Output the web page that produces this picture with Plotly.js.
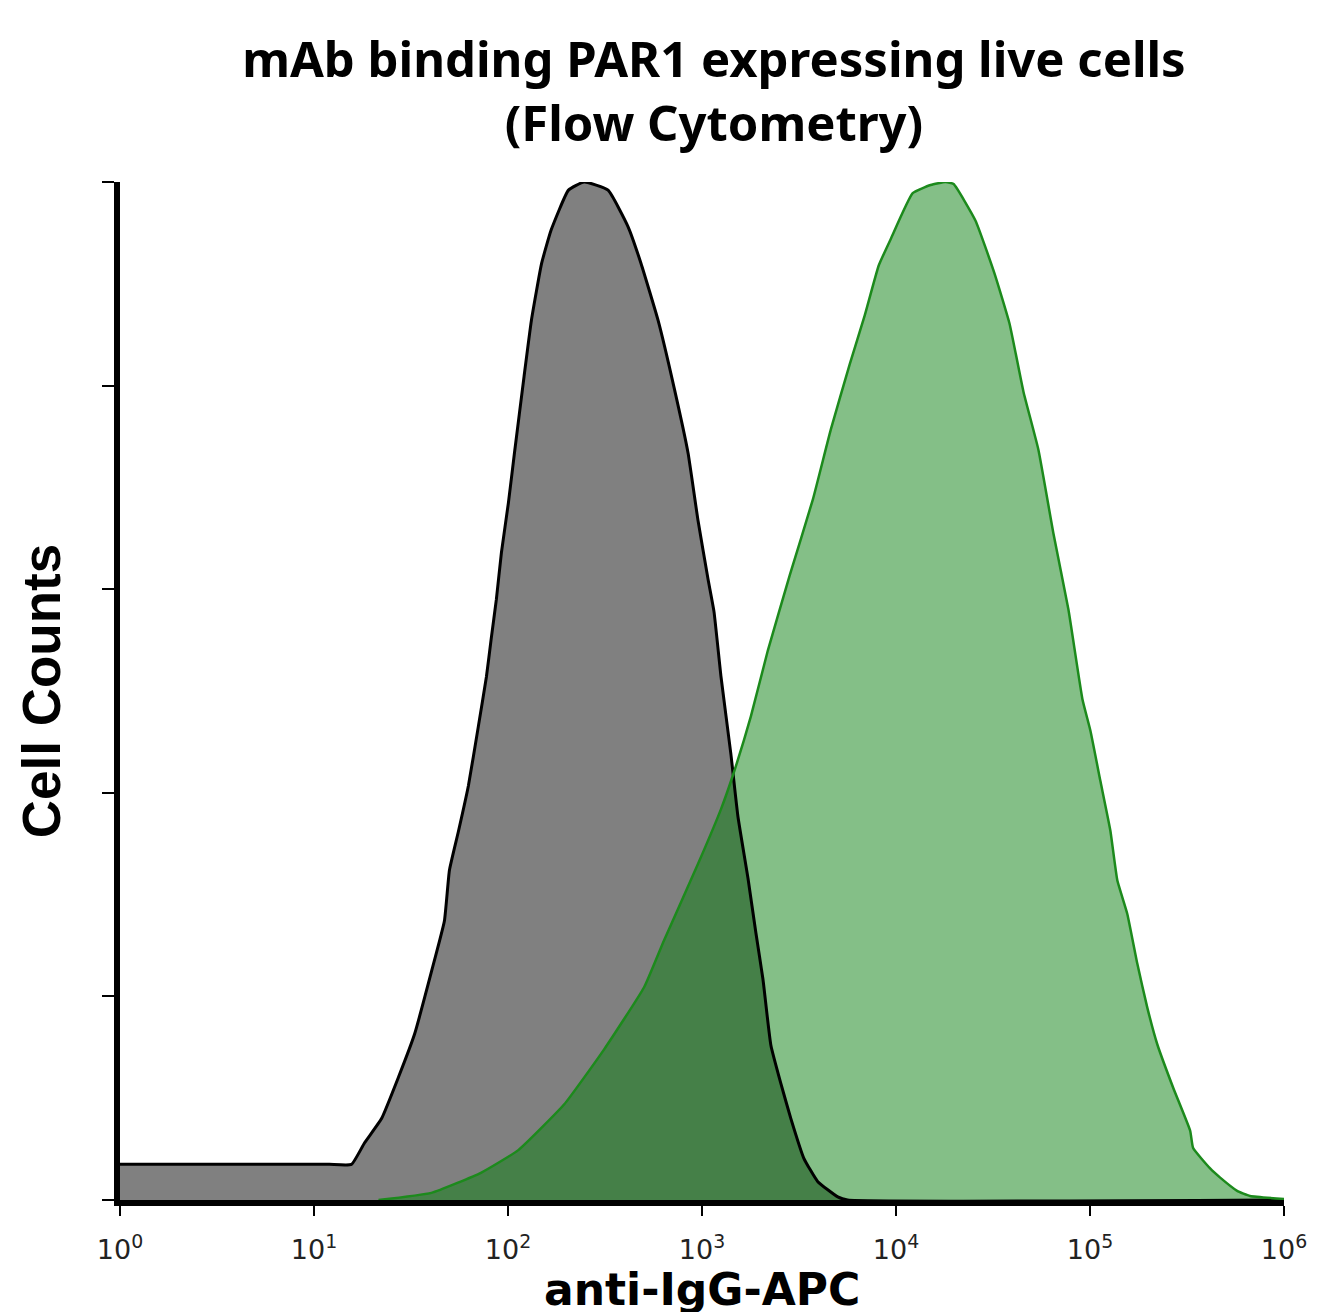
<!DOCTYPE html>
<html>
<head>
<meta charset="utf-8">
<script src="https://cdn.plot.ly/plotly-3.0.1.min.js"></script>
<style>
  html, body { margin: 0; padding: 0; background: #fff; }
  #chart { width: 1327px; height: 1312px; }
</style>
</head>
<body>
<div id="chart"></div>
<script>
// isotype control (gray) - fluorescence vs normalized counts
const isoX = [1, 2, 4, 8, 12, 15.6, 18.2, 22.3, 27.3, 33.0, 40.4, 47.0, 49.9, 55.5, 62.5, 70.3, 77.4,
  82.0, 87.1, 92.5, 100.5, 108, 121, 132, 149, 167, 205, 247, 328, 416, 485, 594, 718, 847, 953, 1074,
  1153, 1253, 1409, 1531, 1726, 1897, 2061, 2265, 2553, 2871, 3350, 3954, 5012, 5636, 1e6];
const isoY = [0.035, 0.035, 0.035, 0.035, 0.035, 0.035, 0.056, 0.080, 0.121, 0.163, 0.225, 0.274,
  0.324, 0.362, 0.407, 0.465, 0.514, 0.552, 0.590, 0.636, 0.685, 0.734, 0.809, 0.864, 0.920, 0.953,
  0.992, 1.000, 0.992, 0.956, 0.920, 0.864, 0.798, 0.734, 0.668, 0.610, 0.578, 0.514, 0.438, 0.377,
  0.316, 0.262, 0.217, 0.152, 0.114, 0.080, 0.041, 0.018, 0.003, 0, 0];

// mAb stained cells (green)
const mabX = [21.5, 40.3, 72.9, 113, 195, 313, 503, 637, 953, 1253, 1442, 1786, 2186, 2837, 3726,
  4615, 5776, 6900, 8147, 9397, 12190, 15080, 18020, 19810, 25700, 32210, 38460, 45390, 54200,
  64750, 77410, 91410, 100500, 113000, 127300, 138300, 155700, 175400, 197400, 222200, 268700,
  328400, 340100, 416100, 468800, 573300, 668300, 1e6];
const mabY = [0, 0.007, 0.027, 0.049, 0.094, 0.148, 0.209, 0.255, 0.330, 0.384, 0.417, 0.475, 0.540,
  0.614, 0.688, 0.757, 0.821, 0.869, 0.918, 0.944, 0.989, 0.997, 1.000, 0.998, 0.962, 0.910, 0.861,
  0.794, 0.737, 0.655, 0.580, 0.492, 0.461, 0.412, 0.363, 0.314, 0.281, 0.232, 0.189, 0.153, 0.110,
  0.068, 0.051, 0.031, 0.022, 0.009, 0.004, 0.001];

const tickVals = [1, 10, 100, 1000, 10000, 100000, 1000000];
const tickText = ['10<sup>0</sup>', '10<sup>1</sup>', '10<sup>2</sup>', '10<sup>3</sup>',
  '10<sup>4</sup>', '10<sup>5</sup>', '10<sup>6</sup>'];
const countTicks = [0, 0.2, 0.4, 0.6, 0.8, 1.0];

// fills first, outlines on top
const smooth = { shape: 'spline', smoothing: 0.4 };
const traces = [
  {
    x: isoX, y: isoY, type: 'scatter', mode: 'lines', fill: 'tozeroy',
    fillcolor: '#808080', line: Object.assign({ width: 0 }, smooth), hoverinfo: 'skip'
  },
  {
    x: mabX, y: mabY, type: 'scatter', mode: 'lines', fill: 'tozeroy',
    fillcolor: 'rgba(10,128,16,0.5)', line: Object.assign({ width: 0 }, smooth), hoverinfo: 'skip'
  },
  {
    x: isoX, y: isoY, type: 'scatter', mode: 'lines',
    line: Object.assign({ color: '#000000', width: 3 }, smooth)
  },
  {
    x: mabX, y: mabY, type: 'scatter', mode: 'lines',
    line: Object.assign({ color: '#1c8a1c', width: 2.5 }, smooth)
  }
];

const layout = {
  width: 1327,
  height: 1312,
  margin: { l: 120, r: 43, t: 182, b: 112 },
  paper_bgcolor: '#ffffff',
  plot_bgcolor: '#ffffff',
  showlegend: false,
  title: {
    text: '<b>mAb binding PAR1 expressing live cells<br>(Flow Cytometry)</b>',
    font: { family: 'Noto Sans', size: 49, color: '#000000' },
    xref: 'container', x: 0.538, xanchor: 'center',
    yref: 'container', y: 0.941, yanchor: 'top'
  },
  xaxis: {
    type: 'log',
    range: [0, 6],
    tickvals: tickVals,
    ticktext: tickText,
    ticks: 'outside',
    ticklen: 10,
    tickwidth: 2,
    tickcolor: '#000000',
    ticklabelstandoff: 11,
    tickfont: { family: 'DejaVu Sans', size: 27, color: '#222222' },
    showline: true,
    linecolor: '#000000',
    linewidth: 6,
    showgrid: false,
    zeroline: false
  },
  yaxis: {
    range: [0, 1],
    tickvals: countTicks,
    showticklabels: false,
    ticks: 'outside',
    ticklen: 12,
    tickwidth: 2,
    tickcolor: '#000000',
    showline: true,
    linecolor: '#000000',
    linewidth: 6,
    showgrid: false,
    zeroline: false,
    title: {
      text: '<b>Cell Counts</b>',
      font: { family: 'Liberation Sans', size: 53, color: '#000000' },
      standoff: 26
    }
  },
  // x axis title, set just under the tick labels as in the original
  annotations: [{
    text: '<b>anti-IgG-APC</b>',
    xref: 'paper', x: 0.5, xanchor: 'center',
    yref: 'paper', y: 0, yanchor: 'top', yshift: -62,
    showarrow: false,
    font: { family: 'DejaVu Sans', size: 44, color: '#000000' }
  }]
};

Plotly.newPlot('chart', traces, layout, { staticPlot: true });
</script>
</body>
</html>
